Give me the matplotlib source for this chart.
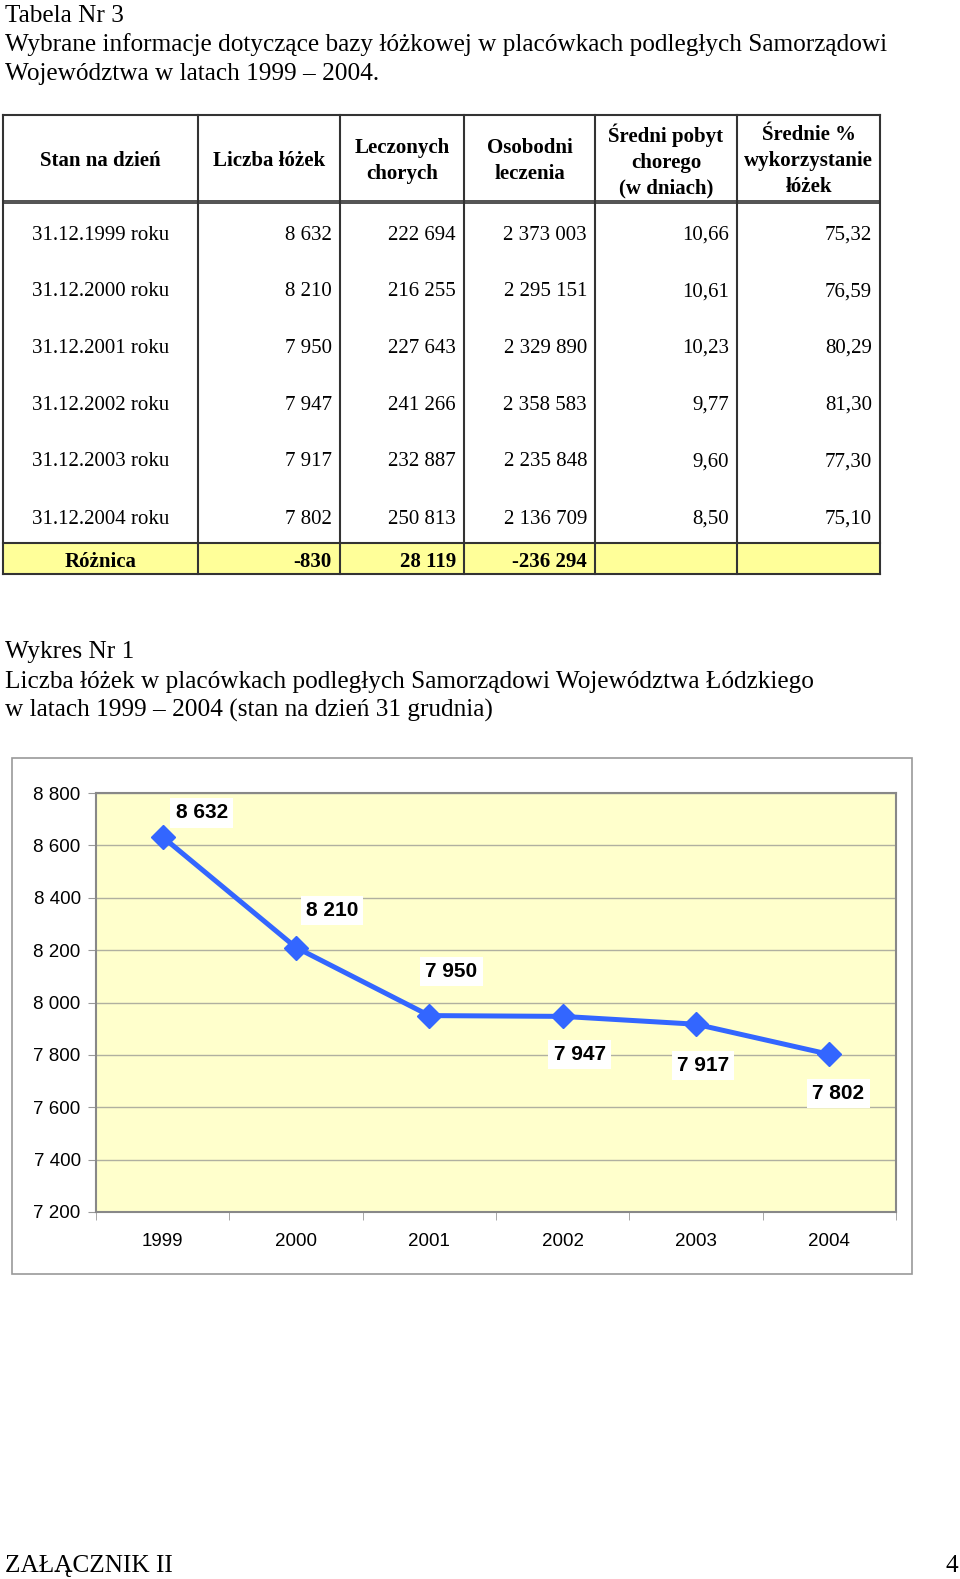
import numpy as np
import matplotlib
matplotlib.use('Agg')
import matplotlib.pyplot as plt
from matplotlib.patches import Rectangle

# --- data ---
columns = ['Stan na dzień', 'Liczba łóżek', 'Leczonych\nchorych', 'Osobodni\nleczenia',
           'Średni pobyt\nchorego\n(w dniach)', 'Średnie %\nwykorzystanie\nłóżek']
row_dates = ['31.12.1999 roku', '31.12.2000 roku', '31.12.2001 roku',
             '31.12.2002 roku', '31.12.2003 roku', '31.12.2004 roku']
beds = ['8 632', '8 210', '7 950', '7 947', '7 917', '7 802']
treated = ['222 694', '216 255', '227 643', '241 266', '232 887', '250 813']
patient_days = ['2 373 003', '2 295 151', '2 329 890', '2 358 583', '2 235 848', '2 136 709']
avg_stay = ['10,66', '10,61', '10,23', '9,77', '9,60', '8,50']
avg_use = ['75,32', '76,59', '80,29', '81,30', '77,30', '75,10']
diff_row = ['Różnica', '-830', '28 119', '-236 294', '', '']

years = ['1999', '2000', '2001', '2002', '2003', '2004']
bed_counts = [8632, 8210, 7950, 7947, 7917, 7802]

serif = 'Liberation Serif'
sans = 'Liberation Sans'
fs_title = 18.2
fs_tab = 15

fig = plt.figure(figsize=(9.6, 15.79), dpi=100)
page = fig.add_axes([0, 0, 1, 1])
page.set_xlim(0, 960)
page.set_ylim(1579, 0)
page.axis('off')

# --- headings ---
page.text(5, 16, 'Tabela Nr 3', family=serif, fontsize=fs_title, va='center')
page.text(5, 45, 'Wybrane informacje dotyczące bazy łóżkowej w placówkach podległych Samorządowi',
          family=serif, fontsize=fs_title, va='center')
page.text(5, 74, 'Województwa w latach 1999 – 2004.', family=serif, fontsize=fs_title, va='center')

# --- table ---
xs = [3, 198, 340, 464, 595, 737, 880]
top, head_bot, diff_top, bot = 115, 202, 543, 574
lc = '#333333'
page.add_patch(Rectangle((xs[0], diff_top), xs[-1] - xs[0], bot - diff_top,
                         facecolor='#ffff99', edgecolor='none', zorder=0))
for x in xs:
    page.plot([x, x], [top, bot], color=lc, lw=1.5)
for y in [top, diff_top, bot]:
    page.plot([xs[0], xs[-1]], [y, y], color=lc, lw=1.5)
page.plot([xs[0], xs[-1]], [head_bot - 1.5, head_bot - 1.5], color=lc, lw=1.2)
page.plot([xs[0], xs[-1]], [head_bot + 1, head_bot + 1], color=lc, lw=1.2)

for i, c in enumerate(columns):
    page.text((xs[i] + xs[i + 1]) / 2, 161, c, family=serif, fontsize=fs_tab, fontweight='bold',
              ha='center', va='center', linespacing=1.38)

row_y = [235, 292, 348.5, 405, 462, 519]
cols = [beds, treated, patient_days, avg_stay, avg_use]
for r, y in enumerate(row_y):
    page.text((xs[0] + xs[1]) / 2, y, row_dates[r], family=serif, fontsize=fs_tab,
              ha='center', va='center')
    for j, col in enumerate(cols):
        page.text(xs[j + 2] - 8, y, col[r], family=serif, fontsize=fs_tab,
                  ha='right', va='center')

page.text((xs[0] + xs[1]) / 2, 562, diff_row[0], family=serif, fontsize=fs_tab,
          fontweight='bold', ha='center', va='center')
for j in range(1, 6):
    page.text(xs[j + 1] - 8, 562, diff_row[j], family=serif, fontsize=fs_tab,
              fontweight='bold', ha='right', va='center')

# --- chart heading ---
page.text(5, 652, 'Wykres Nr 1', family=serif, fontsize=fs_title, va='center')
page.text(5, 682, 'Liczba łóżek w placówkach podległych Samorządowi Województwa Łódzkiego',
          family=serif, fontsize=fs_title, va='center')
page.text(5, 710, 'w latach 1999 – 2004 (stan na dzień 31 grudnia)',
          family=serif, fontsize=fs_title, va='center')

page.add_patch(Rectangle((12, 758), 900, 516, facecolor='white',
                         edgecolor='#999999', lw=1.2))

# --- chart ---
ax = fig.add_axes([96 / 960, 1 - 1212 / 1579, 800 / 960, 419 / 1579])
ax.set_facecolor('#ffffcc')
x = np.arange(len(years))
ax.plot(x, bed_counts, color='#3366ff', lw=3.6, marker='D', ms=12, zorder=3)
ax.set_xlim(-0.5, 5.5)
ax.set_ylim(7200, 8800)
ax.set_yticks(np.arange(7200, 8801, 200))
ax.set_yticklabels([f'{v:,}'.replace(',', ' ') for v in range(7200, 8801, 200)],
                   family=sans, fontsize=13.5)
ax.set_xticks(x)
ax.set_xticklabels(years, family=sans, fontsize=13.5)
ax.set_xticks(np.arange(-0.5, 6, 1), minor=True)
ax.tick_params(axis='x', which='major', length=0, pad=15)
ax.tick_params(axis='x', which='minor', length=6, color='#999999')
ax.tick_params(axis='y', length=6, color='#999999', pad=5)
ax.grid(axis='y', color='#b0b0a0', lw=1)
ax.set_axisbelow(True)
for s in ax.spines.values():
    s.set_color('#888888')
    s.set_linewidth(1.5)

label_offsets = [(39, 24), (36, 37), (22, 44), (17, -38), (7, -41), (9, -39)]
for i, v in enumerate(bed_counts):
    ax.annotate(f'{v:,}'.replace(',', ' '), (x[i], v), xytext=label_offsets[i],
                textcoords='offset pixels', ha='center', va='center',
                family=sans, fontsize=15, fontweight='bold', zorder=4,
                bbox=dict(boxstyle='square,pad=0.25', fc='white', ec='none'))

# --- footer ---
page.text(5, 1566, 'ZAŁĄCZNIK II', family=serif, fontsize=fs_title, va='center')
page.text(958, 1566, '4', family=serif, fontsize=fs_title, va='center', ha='right')

fig.savefig('out.png', dpi=100)
